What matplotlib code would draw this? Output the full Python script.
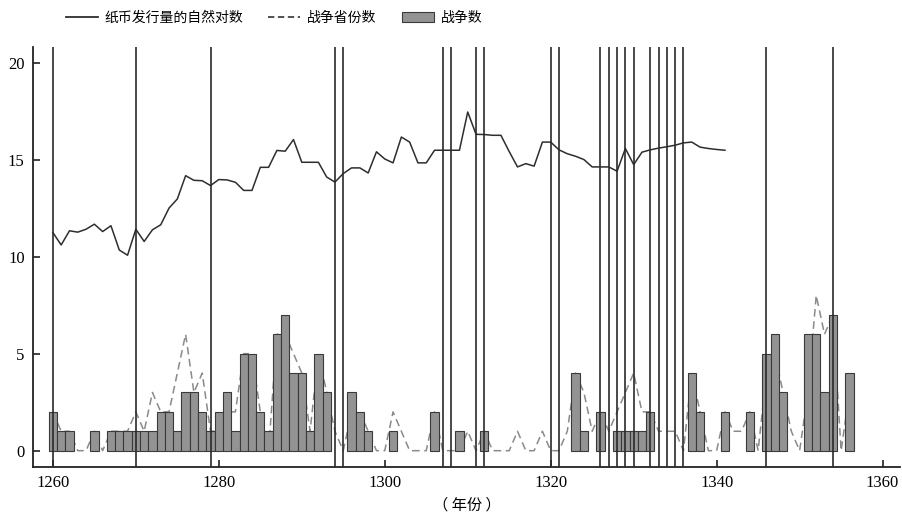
import matplotlib
matplotlib.use("Agg")
import matplotlib.pyplot as plt
import numpy as np
from matplotlib.lines import Line2D
from matplotlib.patches import Patch

cjk = ["Noto Sans CJK SC", "DejaVu Sans"]

# 纸币发行量的自然对数, 1260-1341
money_start = 1260
money_log = [11.24, 10.6, 11.33, 11.26, 11.41, 11.67, 11.29, 11.59, 10.34, 10.07,
             11.41, 10.78, 11.38, 11.64, 12.5, 12.97, 14.17, 13.93, 13.91, 13.66,
             13.97, 13.95, 13.83, 13.41, 13.41, 14.6, 14.6, 15.47, 15.43, 16.03,
             14.86, 14.86, 14.86, 14.1, 13.84, 14.28, 14.57, 14.57, 14.31, 15.4,
             15.03, 14.83, 16.16, 15.9, 14.83, 14.83, 15.48, 15.48, 15.48, 15.48,
             17.45, 16.3, 16.29, 16.25, 16.25, 15.41, 14.62, 14.79, 14.66, 15.9,
             15.9, 15.5, 15.3, 15.17, 15.0, 14.62, 14.62, 14.62, 14.4, 15.57,
             14.74, 15.38, 15.5, 15.59, 15.66, 15.74, 15.86, 15.9, 15.64, 15.57,
             15.52, 15.48]

# 战争省份数, 1260-1356
prov_start = 1260
war_provinces = [2, 1, 1, 0, 0, 1, 0, 1, 1, 1,
                 2, 1, 3, 2, 2, 4, 6, 3, 4, 1,
                 1, 2, 2, 5, 5, 2, 0, 6, 6, 5,
                 4, 1, 5, 3, 1, 0, 2, 2, 1, 0,
                 0, 2, 1, 0, 0, 0, 2, 0, 0, 0,
                 1, 0, 1, 0, 0, 0, 1, 0, 0, 1,
                 0, 0, 1, 4, 3, 1, 2, 1, 2, 3,
                 4, 2, 2, 1, 1, 1, 0, 4, 2, 0,
                 0, 2, 1, 1, 2, 0, 4, 5, 3, 1,
                 0, 3, 8, 6, 7, 0, 3]

# 战争数
war_years = [1260, 1261, 1262, 1265, 1267, 1268, 1269, 1270, 1271, 1272,
             1273, 1274, 1275, 1276, 1277, 1278, 1279, 1280, 1281, 1282,
             1283, 1284, 1285, 1286, 1287, 1288, 1289, 1290, 1291, 1292,
             1293, 1296, 1297, 1298, 1301, 1306, 1309, 1312, 1323, 1324,
             1326, 1328, 1329, 1330, 1331, 1332, 1337, 1338, 1341, 1344,
             1346, 1347, 1348, 1351, 1352, 1353, 1354, 1356]
war_counts = [2, 1, 1, 1, 1, 1, 1, 1, 1, 1,
              2, 2, 1, 3, 3, 2, 1, 2, 3, 1,
              5, 5, 2, 1, 6, 7, 4, 4, 1, 5,
              3, 3, 2, 1, 1, 2, 1, 1, 4, 1,
              2, 1, 1, 1, 1, 2, 4, 2, 2, 2,
              5, 6, 3, 6, 6, 3, 7, 4]

# 竖线所在年份
marked_years = [1260, 1270, 1279, 1294, 1295, 1307, 1308, 1311, 1312, 1320,
                1321, 1326, 1327, 1328, 1329, 1330, 1332, 1333, 1334, 1335,
                1336, 1346, 1354]

fig = plt.figure(figsize=(9.03, 5.13), dpi=100)
ax = fig.add_axes([0.0365, 0.0897, 0.9602, 0.8187])

x_money = np.arange(money_start, money_start + len(money_log))
x_prov = np.arange(prov_start, prov_start + len(war_provinces))

ax.plot(x_prov, war_provinces, color="#8a8a8a", lw=1.1, ls=(0, (5, 3)), zorder=1)
ax.bar(war_years, war_counts, width=1.0, color="#939393", edgecolor="#3a3a3a",
       linewidth=0.8, zorder=2)
ax.plot(x_money, money_log, color="#2e2e2e", lw=1.1, zorder=3)
for yr in marked_years:
    ax.axvline(yr, color="#2a2a2a", lw=1.2, zorder=4)

ax.set_xlim(1257.6, 1362.1)
ax.set_ylim(-0.84, 20.8)
ax.set_xticks(np.arange(1260, 1361, 20))
ax.set_yticks(np.arange(0, 21, 5))
ax.tick_params(direction="in", length=5, width=1.2, color="#222222",
               labelsize=12, pad=6)
for lab in ax.get_xticklabels() + ax.get_yticklabels():
    lab.set_family("Liberation Serif")
for s in ["top", "right"]:
    ax.spines[s].set_visible(False)
for s in ["left", "bottom"]:
    ax.spines[s].set_linewidth(1.3)
    ax.spines[s].set_color("#222222")

ax.set_xlabel("（ 年份 ）", family=cjk, fontsize=11, labelpad=4)

handles = [Line2D([0], [0], color="#2e2e2e", lw=1.3),
           Line2D([0], [0], color="#444444", lw=1.3, ls=(0, (3.5, 2))),
           Patch(facecolor="#939393", edgecolor="#3a3a3a", linewidth=0.8)]
labels = ["纸币发行量的自然对数", "战争省份数", "战争数"]
fig.legend(handles, labels, loc="center", bbox_to_anchor=(274 / 903, 1 - 18 / 513),
           ncol=3, frameon=False, prop={"family": cjk, "size": 10},
           handlelength=2.3, columnspacing=1.8, handletextpad=0.5)

fig.savefig("out.png", dpi=100)
